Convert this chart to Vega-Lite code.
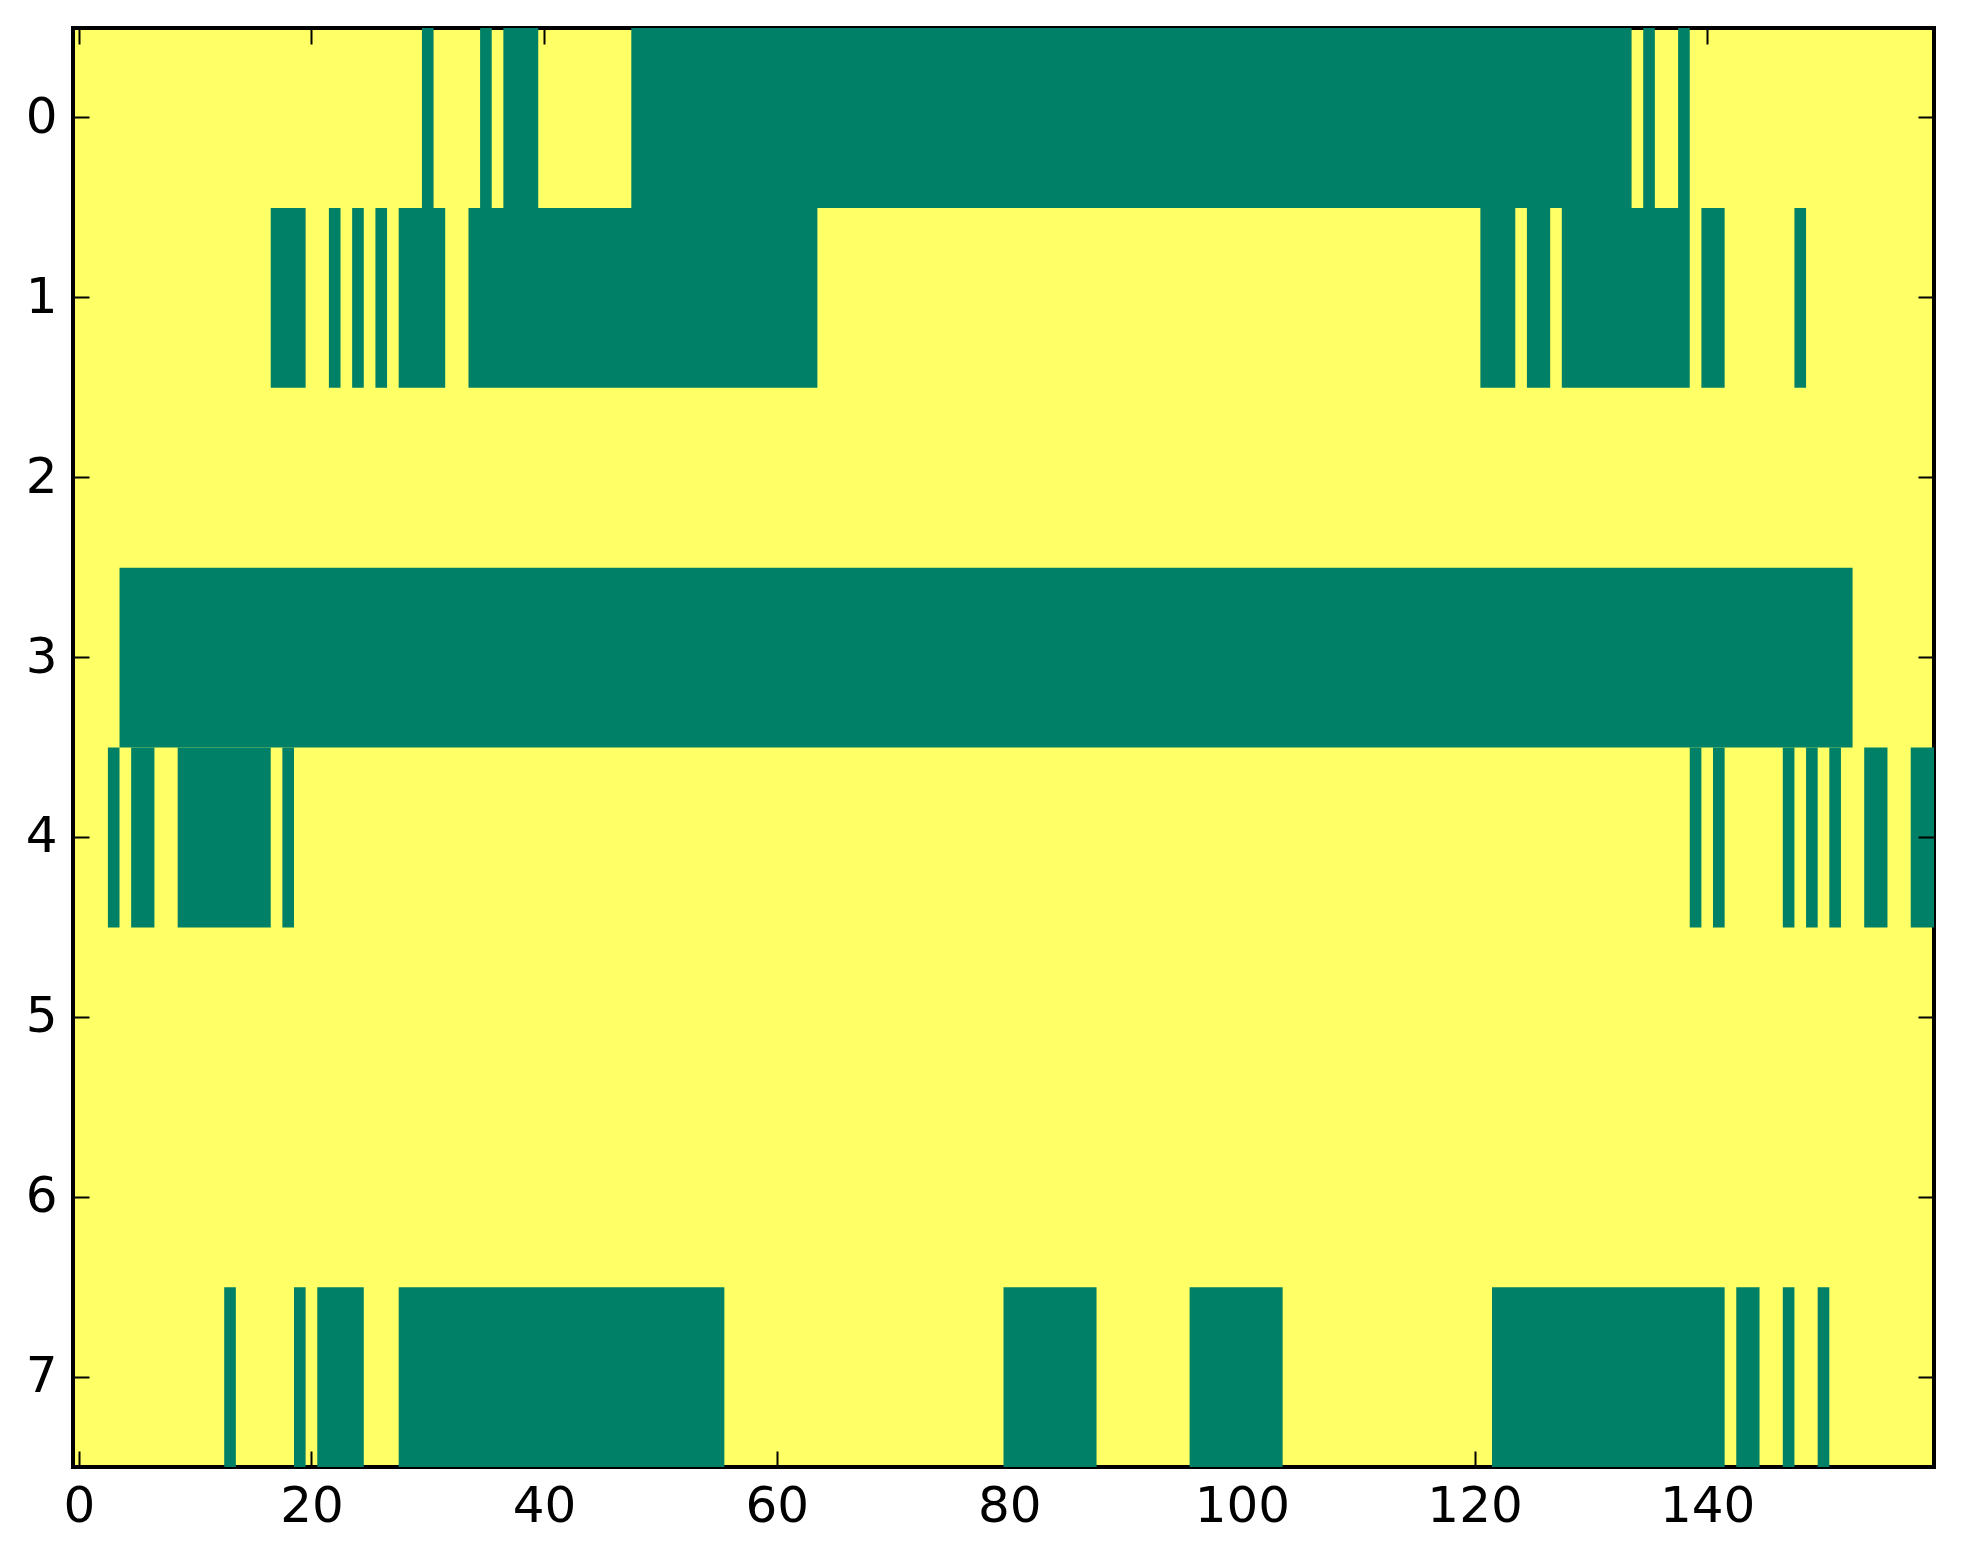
{
  "$schema": "https://vega.github.io/schema/vega-lite/v6.json",
  "autosize": {"type": "none"},
  "padding": {"left": 73, "top": 28, "right": 29, "bottom": 97},
  "width": 1861,
  "height": 1439,
  "background": "white",
  "data": {
    "values": [
      {"row": 0, "first": 30, "last": 30},
      {"row": 0, "first": 35, "last": 35},
      {"row": 0, "first": 37, "last": 39},
      {"row": 0, "first": 48, "last": 133},
      {"row": 0, "first": 135, "last": 135},
      {"row": 0, "first": 138, "last": 138},
      {"row": 1, "first": 17, "last": 19},
      {"row": 1, "first": 22, "last": 22},
      {"row": 1, "first": 24, "last": 24},
      {"row": 1, "first": 26, "last": 26},
      {"row": 1, "first": 28, "last": 31},
      {"row": 1, "first": 34, "last": 63},
      {"row": 1, "first": 121, "last": 123},
      {"row": 1, "first": 125, "last": 126},
      {"row": 1, "first": 128, "last": 138},
      {"row": 1, "first": 140, "last": 141},
      {"row": 1, "first": 148, "last": 148},
      {"row": 3, "first": 4, "last": 152},
      {"row": 4, "first": 3, "last": 3},
      {"row": 4, "first": 5, "last": 6},
      {"row": 4, "first": 9, "last": 16},
      {"row": 4, "first": 18, "last": 18},
      {"row": 4, "first": 139, "last": 139},
      {"row": 4, "first": 141, "last": 141},
      {"row": 4, "first": 147, "last": 147},
      {"row": 4, "first": 149, "last": 149},
      {"row": 4, "first": 151, "last": 151},
      {"row": 4, "first": 154, "last": 155},
      {"row": 4, "first": 158, "last": 159},
      {"row": 7, "first": 13, "last": 13},
      {"row": 7, "first": 19, "last": 19},
      {"row": 7, "first": 21, "last": 24},
      {"row": 7, "first": 28, "last": 55},
      {"row": 7, "first": 80, "last": 87},
      {"row": 7, "first": 96, "last": 103},
      {"row": 7, "first": 122, "last": 141},
      {"row": 7, "first": 143, "last": 144},
      {"row": 7, "first": 147, "last": 147},
      {"row": 7, "first": 150, "last": 150}
    ]
  },
  "transform": [
    {"calculate": "datum.first - 0.5", "as": "x0"},
    {"calculate": "datum.last + 0.5", "as": "x1"}
  ],
  "encoding": {
    "x": {
      "field": "x0",
      "type": "quantitative",
      "scale": {"domain": [-0.5, 159.5], "nice": false, "zero": false}
    },
    "x2": {"field": "x1"},
    "y": {
      "field": "row",
      "type": "ordinal",
      "scale": {"domain": [0, 1, 2, 3, 4, 5, 6, 7], "paddingInner": 0, "paddingOuter": 0}
    }
  },
  "layer": [
    {
      "mark": {"type": "rect", "color": "#008066", "stroke": null},
      "encoding": {
        "x": {
          "field": "x0",
          "type": "quantitative",
          "axis": {"orient": "bottom", "values": [0, 20, 40, 60, 80, 100, 120, 140], "labelPadding": 30}
        },
        "y": {
          "field": "row",
          "type": "ordinal",
          "axis": {"orient": "left", "labelPadding": 32}
        }
      }
    },
    {
      "mark": {"type": "rect", "opacity": 0},
      "encoding": {
        "x": {
          "field": "x0",
          "type": "quantitative",
          "axis": {"orient": "top", "values": [0, 20, 40, 60, 80, 100, 120, 140], "labels": false}
        },
        "y": {
          "field": "row",
          "type": "ordinal",
          "axis": {"orient": "right", "labels": false}
        }
      }
    }
  ],
  "resolve": {"axis": {"x": "independent", "y": "independent"}},
  "config": {
    "view": {"fill": "#ffff66", "stroke": "black", "strokeWidth": 4},
    "axis": {
      "title": null,
      "grid": false,
      "domain": false,
      "tickColor": "black",
      "tickWidth": 2,
      "tickSize": -16,
      "labelFont": "DejaVu Sans",
      "labelFontSize": 50,
      "labelColor": "black",
      "labelAngle": 0
    }
  }
}
